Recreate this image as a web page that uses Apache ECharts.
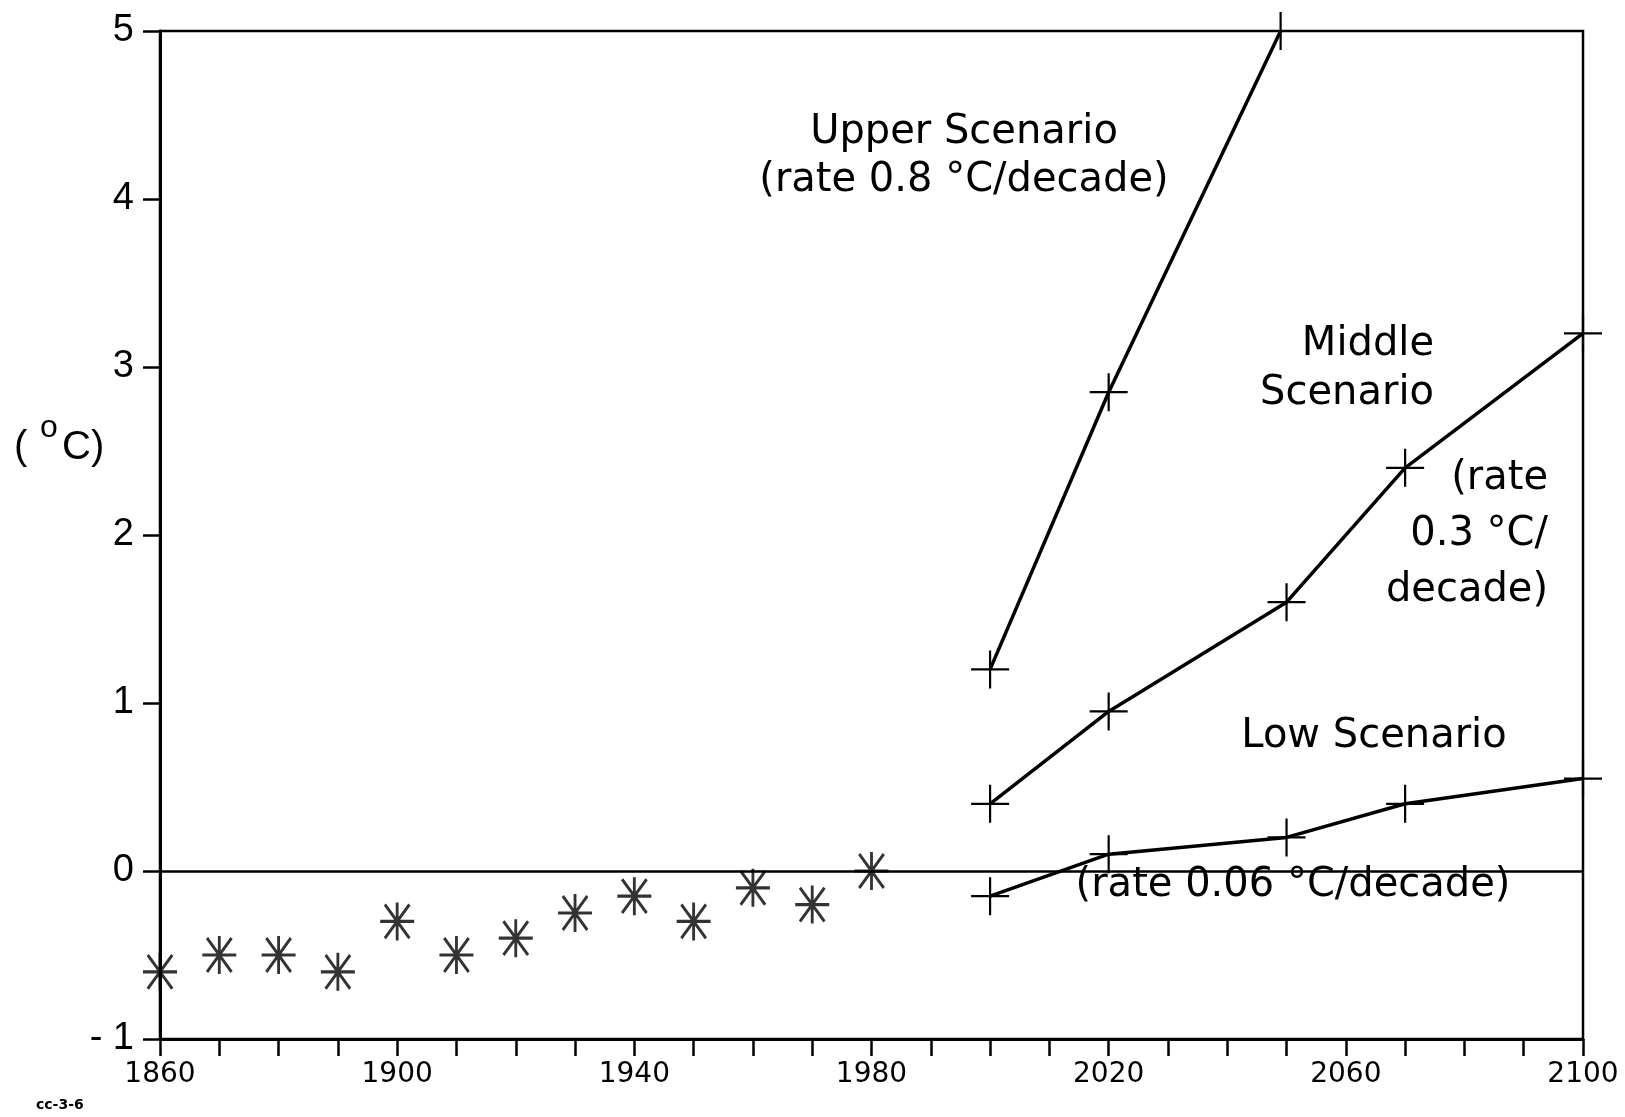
<!DOCTYPE html>
<html>
<head>
<meta charset="utf-8">
<script src="https://cdn.jsdelivr.net/npm/echarts@6/dist/echarts.min.js"></script>
<style>
html,body{margin:0;padding:0;background:#fff;}
#chart{width:1625px;height:1117px;}
</style>
</head>
<body>
<div id="chart"></div>
<script>
// Observed temperature anomalies (asterisks)
const obsYears = [1860,1870,1880,1890,1900,1910,1920,1930,1940,1950,1960,1970,1980];
const obsValues = [-0.6,-0.5,-0.5,-0.6,-0.3,-0.5,-0.4,-0.25,-0.15,-0.3,-0.1,-0.2,0];
// Scenarios
const upperYears = [2000,2020,2049];
const upperValues = [1.2,2.85,5.0];
const middleYears = [2000,2020,2050,2070,2100];
const middleValues = [0.4,0.95,1.6,2.4,3.2];
const lowYears = [2000,2020,2050,2070,2100];
const lowValues = [-0.15,0.1,0.2,0.4,0.55];
// Axis tick labels
const xTickLabels = [1860,1900,1940,1980,2020,2060,2100];
const yTickLabels = [-1,0,1,2,3,4,5];

const pair = (xs, ys) => xs.map((x, i) => [x, ys[i]]);

const plusSym = 'path://M0,18 L36,18 M18,0 L18,36';
const starSym = 'path://M18,0 L18,36 M0,18 L36,18 M5,2 L31,34 M31,2 L5,34';
const TXT = '"DejaVu Sans", sans-serif';

const chart = echarts.init(document.getElementById('chart'), null, {renderer:'canvas'});

const lineSeries = (name, xs, ys) => ({
  name, type:'line', data: pair(xs, ys), clip:false,
  symbol: plusSym, symbolSize: 38, showAllSymbol: true,
  lineStyle:{color:'#000', width:3.5},
  itemStyle:{color:'rgba(0,0,0,0)', borderColor:'#000', borderWidth:2.2},
  emphasis:{disabled:true}, animation:false, z:3
});

const option = {
  animation:false,
  backgroundColor:'#fff',
  grid:{left:160, top:31, width:1423, height:1008, show:true, borderColor:'#000', borderWidth:2.5, backgroundColor:'transparent'},
  xAxis:{
    type:'value', min:1860, max:2100, interval:10,
    axisLine:{show:true, onZero:false, lineStyle:{color:'#000', width:3}},
    axisTick:{show:true, inside:false, length:17, lineStyle:{color:'#000', width:2.5}},
    splitLine:{show:false},
    axisLabel:{
      margin:22, color:'#000', fontSize:28, fontFamily:TXT,
      formatter: v => xTickLabels.indexOf(v) >= 0 ? String(v) : ''
    }
  },
  yAxis:{
    type:'value', min:-1, max:5, interval:1,
    axisLine:{show:true, onZero:false, lineStyle:{color:'#000', width:3}},
    axisTick:{show:true, inside:false, length:17, lineStyle:{color:'#000', width:2.5}},
    splitLine:{show:false},
    axisLabel:{
      margin:26, color:'#000', fontSize:38, fontFamily:'"Liberation Sans", Arial, sans-serif',
      formatter: v => yTickLabels.indexOf(v) >= 0 ? (v < 0 ? '- ' + Math.abs(v) : String(v)) : ''
    }
  },
  series:[
    {
      name:'Observed', type:'scatter', data: pair(obsYears, obsValues), clip:false,
      symbol: starSym, symbolSize:[34,38],
      itemStyle:{color:'rgba(0,0,0,0)', borderColor:'#000', borderWidth:3},
      emphasis:{disabled:true}, z:3,
      markLine:{
        silent:true, symbol:['none','none'], label:{show:false},
        lineStyle:{color:'#000', width:2.5, type:'solid'},
        data:[{yAxis:0}]
      }
    },
    lineSeries('Upper', upperYears, upperValues),
    lineSeries('Middle', middleYears, middleValues),
    lineSeries('Low', lowYears, lowValues)
  ],
  graphic:[
    {type:'text', left:14, top:428, z:10, style:{text:'(', font:'40px "Liberation Sans", sans-serif', fill:'#000'}},
    {type:'text', left:40, top:412, z:10, style:{text:'o', font:'32px "Liberation Sans", sans-serif', fill:'#000'}},
    {type:'text', left:62, top:428, z:10, style:{text:'C)', font:'40px "Liberation Sans", sans-serif', fill:'#000'}},
    {type:'text', x:964, y:133, z:10, style:{text:'Upper Scenario', font:'40px ' + TXT, fill:'#000', textAlign:'center', textVerticalAlign:'middle'}},
    {type:'text', x:964, y:181, z:10, style:{text:'(rate 0.8 °C/decade)', font:'40px ' + TXT, fill:'#000', textAlign:'center', textVerticalAlign:'middle'}},
    {type:'text', x:1434, y:345, z:10, style:{text:'Middle', font:'40px ' + TXT, fill:'#000', textAlign:'right', textVerticalAlign:'middle'}},
    {type:'text', x:1434, y:394, z:10, style:{text:'Scenario', font:'40px ' + TXT, fill:'#000', textAlign:'right', textVerticalAlign:'middle'}},
    {type:'text', x:1548, y:479, z:10, style:{text:'(rate', font:'40px ' + TXT, fill:'#000', textAlign:'right', textVerticalAlign:'middle'}},
    {type:'text', x:1548, y:535, z:10, style:{text:'0.3 °C/', font:'40px ' + TXT, fill:'#000', textAlign:'right', textVerticalAlign:'middle'}},
    {type:'text', x:1548, y:591, z:10, style:{text:'decade)', font:'40px ' + TXT, fill:'#000', textAlign:'right', textVerticalAlign:'middle'}},
    {type:'text', x:1374, y:737, z:10, style:{text:'Low Scenario', font:'40px ' + TXT, fill:'#000', textAlign:'center', textVerticalAlign:'middle'}},
    {type:'text', x:1293, y:886, z:10, style:{text:'(rate 0.06 °C/decade)', font:'40px ' + TXT, fill:'#000', textAlign:'center', textVerticalAlign:'middle'}},
    {type:'text', x:36, y:1105, z:10, style:{text:'cc-3-6', font:'bold 14px ' + TXT, fill:'#000', textAlign:'left', textVerticalAlign:'middle'}}
  ]
};
chart.setOption(option);
</script>
</body>
</html>
